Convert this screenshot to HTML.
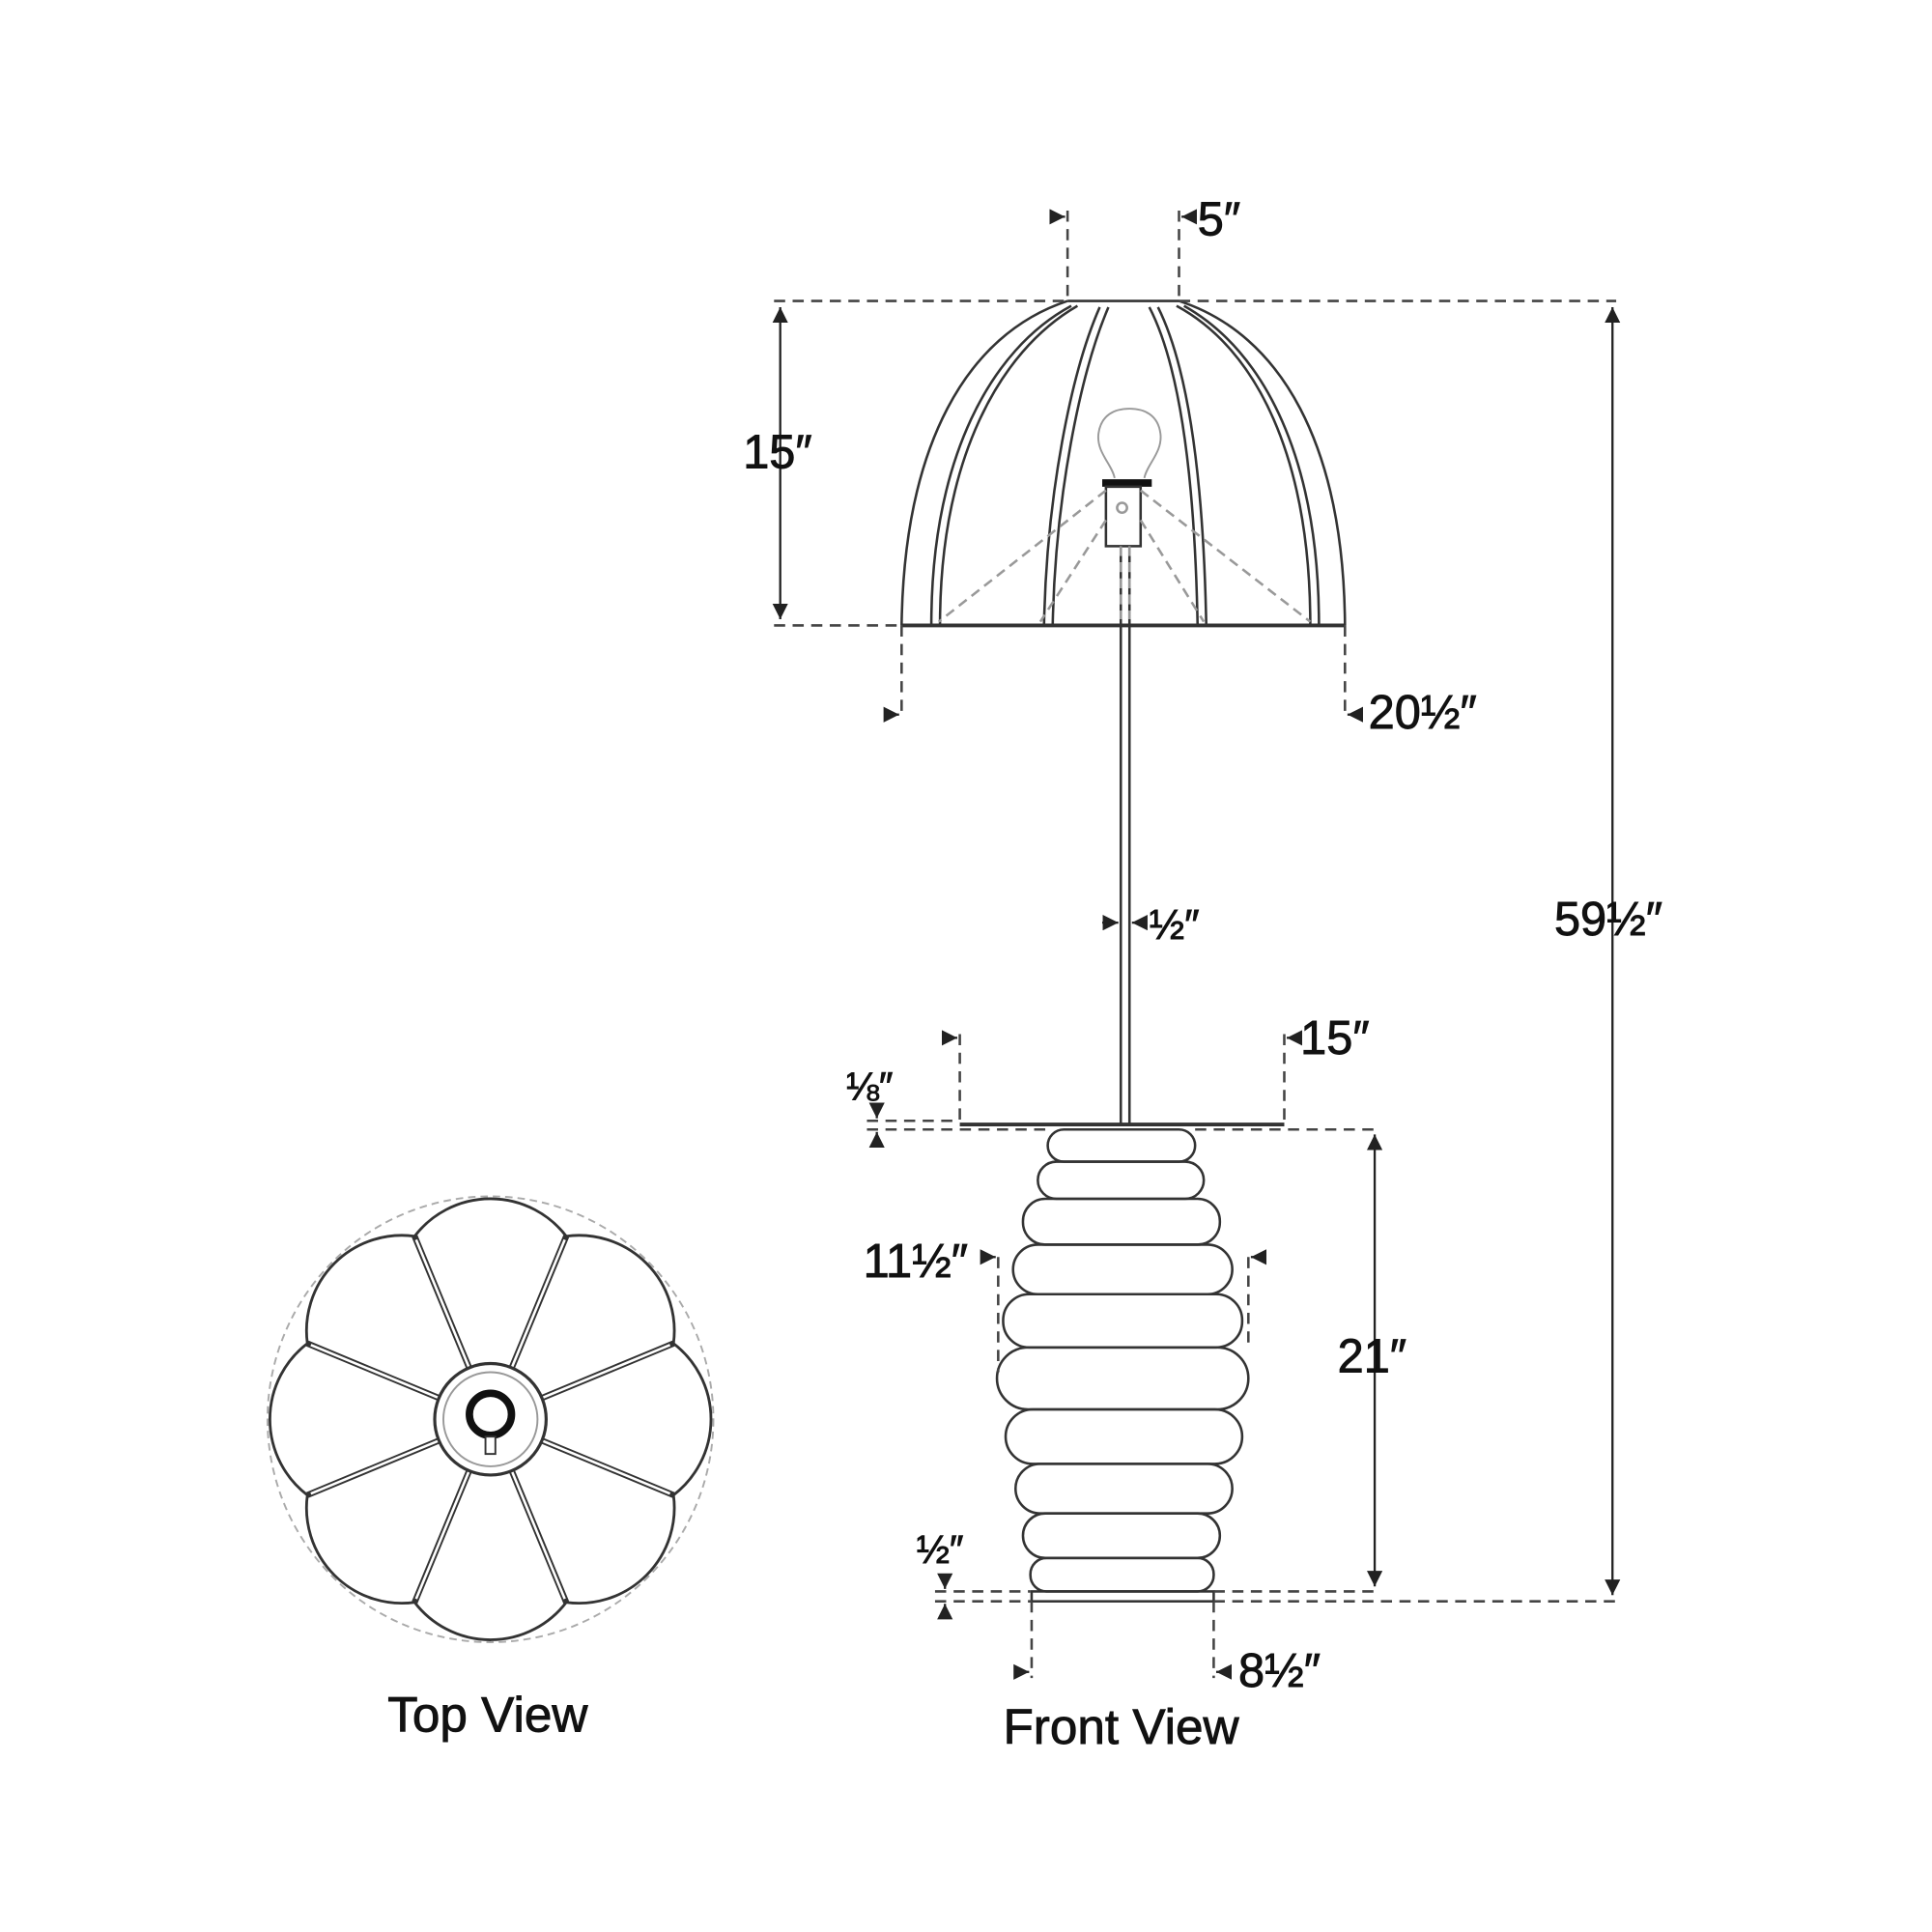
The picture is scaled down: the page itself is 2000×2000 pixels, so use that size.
<!DOCTYPE html>
<html><head><meta charset="utf-8"><style>
html,body{margin:0;padding:0;background:#fff;}
svg{display:block;}
text{font-family:"Liberation Sans Narrow","Liberation Sans",sans-serif;fill:#111;stroke:#111;stroke-width:0.7;}
</style></head><body>
<svg width="2000" height="2000" viewBox="0 0 1560 1560" xmlns="http://www.w3.org/2000/svg">
<defs>
<marker id="a" viewBox="0 0 10 10" refX="10" refY="5" markerWidth="7" markerHeight="7" orient="auto-start-reverse"><path d="M0,0 L10,5 L0,10z" fill="#222"/></marker>
</defs>
<g fill="none" stroke="#333" stroke-width="2">
<path d="M862,243 L952,243"/>
<path d="M862,243 C780,270 730,360 728,505"/>
<path d="M952,243 C1035,270 1085,360 1086,505"/>
<path d="M865,247 C800,282 752,370 752,505 M870,247 C806,284 759,372 759,505"/>
<path d="M888,248 C865,300 845,400 843,505 M895,248 C872,302 852,402 850,505"/>
<path d="M928,248 C955,300 965,400 967,505 M935,248 C962,302 972,402 974,505"/>
<path d="M950,247 C1015,282 1058,370 1058,505 M956,247 C1022,284 1065,372 1065,505"/>
<path d="M728,505 L1086,505" stroke-width="3"/>
<path d="M900,386 C898,375 885,365 887,350 C889,335 900,330 912,330 C924,330 935,335 937,350 C939,365 926,375 924,386" stroke="#999" stroke-width="1.5"/>
<path d="M890,390 L930,390" stroke="#111" stroke-width="6"/>
<rect x="893" y="393" width="28" height="48"/>
<circle cx="906" cy="410" r="4" stroke="#999"/>
<path d="M905,441 L905,908 M912,441 L912,908"/>
<path d="M775,908 L1037,908" stroke-width="3"/>
<rect x="846" y="912" width="119" height="26" rx="13"/>
<rect x="838" y="938" width="134" height="30" rx="15"/>
<rect x="826" y="968" width="159" height="37" rx="18"/>
<rect x="818" y="1005" width="177" height="40" rx="20"/>
<rect x="810" y="1045" width="193" height="43" rx="21"/>
<rect x="805" y="1088" width="203" height="50" rx="25"/>
<rect x="812" y="1138" width="191" height="44" rx="22"/>
<rect x="820" y="1182" width="175" height="40" rx="20"/>
<rect x="826" y="1222" width="159" height="36" rx="18"/>
<rect x="832" y="1258" width="148" height="27" rx="13"/>
<rect x="833" y="1285" width="147" height="8"/>
</g>
<g fill="none" stroke="#999" stroke-width="2" stroke-dasharray="8,5">
<path d="M893,396 L758,502 M921,396 L1058,502 M893,420 L840,502 M921,420 L972,502 M905,441 L905,500 M912,441 L912,500"/>
</g>
<g fill="none" stroke="#444" stroke-width="2" stroke-dasharray="9,6">
<path d="M625,243 L862,243 M952,243 L1305,243"/>
<path d="M625,505 L728,505"/>
<path d="M862,170 L862,243 M952,170 L952,243"/>
<path d="M728,505 L728,580 M1086,505 L1086,580"/>
<path d="M775,835 L775,908 M1037,835 L1037,908"/>
<path d="M700,905 L775,905 M700,912 L846,912 M965,912 L1113,912"/>
<path d="M806,1015 L806,1108 M1008,1015 L1008,1088"/>
<path d="M755,1285 L832,1285 M980,1285 L1113,1285 M755,1293 L833,1293 M980,1293 L1305,1293"/>
<path d="M833,1293 L833,1355 M980,1293 L980,1355"/>
</g>
<g fill="none" stroke="#222" stroke-width="1.8">
<path d="M630,248 L630,500" marker-start="url(#a)" marker-end="url(#a)"/>
<path d="M1302,248 L1302,1288" marker-start="url(#a)" marker-end="url(#a)"/>
<path d="M1110,916 L1110,1281" marker-start="url(#a)" marker-end="url(#a)"/>
<path d="M850,175 L860,175" marker-end="url(#a)"/><path d="M964,175 L954,175" marker-end="url(#a)"/>
<path d="M715,577 L726,577" marker-end="url(#a)"/><path d="M1098,577 L1088,577" marker-end="url(#a)"/>
<path d="M890,745 L903,745" marker-end="url(#a)"/><path d="M926,745 L914,745" marker-end="url(#a)"/>
<path d="M763,838 L773,838" marker-end="url(#a)"/><path d="M1049,838 L1039,838" marker-end="url(#a)"/>
<path d="M794,1015 L804,1015" marker-end="url(#a)"/><path d="M1020,1015 L1010,1015" marker-end="url(#a)"/>
<path d="M708,893 L708,903" marker-end="url(#a)"/><path d="M708,924 L708,914" marker-end="url(#a)"/>
<path d="M763,1272 L763,1283" marker-end="url(#a)"/><path d="M763,1306 L763,1295" marker-end="url(#a)"/>
<path d="M821,1350 L831,1350" marker-end="url(#a)"/><path d="M992,1350 L982,1350" marker-end="url(#a)"/>
</g>
<g font-size="38">
<text x="967" y="190">5″</text>
<text x="600" y="378">15″</text>
<text x="1105" y="588">20½″</text>
<text x="1255" y="755">59½″</text>
<text x="928" y="758" font-size="34">½″</text>
<text x="1050" y="851">15″</text>
<text x="683" y="888" font-size="32">⅛″</text>
<text x="697" y="1031">11½″</text>
<text x="1080" y="1108">21″</text>
<text x="740" y="1262" font-size="32">½″</text>
<text x="1000" y="1362">8½″</text>
<text x="810" y="1408" font-size="40" stroke-width="0.4">Front View</text>
<text x="313" y="1398" font-size="40" stroke-width="0.4">Top View</text>
</g>
<circle cx="396" cy="1146" r="180" fill="none" stroke="#aaa" stroke-width="1.5" stroke-dasharray="6,4"/>
<path d="M543.8,1207.2 A77,77 0 0 1 457.2,1293.8 A77,77 0 0 1 334.8,1293.8 A77,77 0 0 1 248.2,1207.2 A77,77 0 0 1 248.2,1084.8 A77,77 0 0 1 334.8,998.2 A77,77 0 0 1 457.2,998.2 A77,77 0 0 1 543.8,1084.8 A77,77 0 0 1 543.8,1207.2 Z" fill="none" stroke="#333" stroke-width="2.2"/>
<g stroke="#333" stroke-width="5" fill="none">
<path d="M437.6,1163.2 L543.8,1207.2 M413.2,1187.6 L457.2,1293.8 M378.8,1187.6 L334.8,1293.8 M354.4,1163.2 L248.2,1207.2 M354.4,1128.8 L248.2,1084.8 M378.8,1104.4 L334.8,998.2 M413.2,1104.4 L457.2,998.2 M437.6,1128.8 L543.8,1084.8"/>
</g>
<g stroke="#fff" stroke-width="2" fill="none">
<path d="M437.6,1163.2 L541,1206 M413.2,1187.6 L456,1291 M378.8,1187.6 L336,1291 M354.4,1163.2 L251,1206 M354.4,1128.8 L251,1086 M378.8,1104.4 L336,1001 M413.2,1104.4 L456,1001 M437.6,1128.8 L541,1086"/>
</g>
<circle cx="396" cy="1146" r="45" fill="#fff" stroke="#333" stroke-width="2.5"/>
<circle cx="396" cy="1146" r="38" fill="none" stroke="#999" stroke-width="1.5"/>
<circle cx="396" cy="1142" r="17" fill="#fff" stroke="#111" stroke-width="6"/>
<rect x="392" y="1160" width="8" height="14" fill="#fff" stroke="#333" stroke-width="1.5"/>
</svg>
</body></html>
